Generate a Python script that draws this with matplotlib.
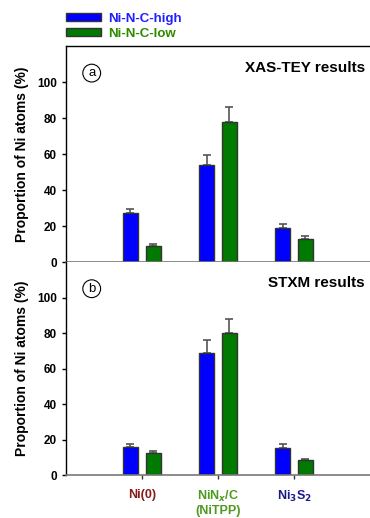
import numpy as np
import matplotlib
matplotlib.use('Agg')
import matplotlib.pyplot as plt

plt.rcParams['font.family'] = ['Liberation Sans', 'DejaVu Sans']
plt.rcParams['font.weight'] = 'bold'

categories = ['Ni(0)', 'NiN$_x$/C\n(NiTPP)', 'Ni$_3$S$_2$']
cat_colors = ['#8B1A1A', '#4E9A1E', '#1A1A8B']
series = ['Ni-N-C-high', 'Ni-N-C-low']

# panel a: XAS-TEY
xas_high = [27.3, 54.0, 19.0]
xas_high_err = [2.2, 5.6, 2.3]
xas_low = [9.0, 77.8, 13.0]
xas_low_err = [1.0, 8.2, 1.6]

# panel b: STXM
stxm_high = [16.0, 69.0, 15.0]
stxm_high_err = [1.7, 7.0, 2.2]
stxm_low = [12.3, 80.0, 8.2]
stxm_low_err = [1.1, 7.9, 1.1]

panel_titles = ['XAS-TEY results', 'STXM results']
panel_tags = ['a', 'b']

fig = plt.figure(figsize=(3.70, 5.18), dpi=100)
ax1 = fig.add_axes([0.178, 0.494, 0.822, 0.417])
ax2 = fig.add_axes([0.178, 0.083, 0.822, 0.411])

x = np.arange(1, len(categories) + 1)
w = 0.19
off = 0.15
blue = '#0000FF'
green = '#007A00'

def draw_panel(ax, high, high_err, low, low_err, title, tag, bottom):
    ax.bar(x - off, high, w, color=blue, edgecolor='#333333', linewidth=1.0, zorder=2, label=series[0])
    ax.bar(x + off, low, w, color=green, edgecolor='#333333', linewidth=1.0, zorder=2, label=series[1])
    ax.errorbar(x - off, high, yerr=[np.zeros(3), high_err], fmt='none', ecolor='#555555',
                elinewidth=1.2, capsize=3, capthick=1.2, zorder=1)
    ax.errorbar(x + off, low, yerr=[np.zeros(3), low_err], fmt='none', ecolor='#555555',
                elinewidth=1.2, capsize=3, capthick=1.2, zorder=1)
    ax.set_xlim(0, 4)
    ax.set_ylim(0, 120)
    ax.set_yticks([0, 20, 40, 60, 80, 100])
    ax.tick_params(axis='y', labelsize=8.5, length=3, width=1, direction='out')
    for lab in ax.get_yticklabels():
        lab.set_fontweight('bold')
    ax.spines['right'].set_visible(False)
    ax.spines['bottom'].set_color('#777777')
    ax.spines['bottom'].set_linewidth(1.2)
    ax.spines['left'].set_linewidth(1.0)
    ax.set_ylabel('Proportion of Ni atoms (%)', fontsize=10, fontweight='bold', labelpad=6)
    ax.text(3.93, 108, title, ha='right', va='center', fontsize=11, fontweight='bold')
    ax.text(0.34, 105, tag, ha='center', va='center', fontsize=9.5, fontweight='normal',
            bbox=dict(boxstyle='circle,pad=0.22', facecolor='white', edgecolor='black', linewidth=0.8))
    if bottom:
        ax.spines['top'].set_visible(False)
        ax.set_xticks(x)
        ax.set_xticklabels(categories, fontsize=9, fontweight='bold', va='top', linespacing=1.1)
        for lab, c in zip(ax.get_xticklabels(), cat_colors):
            lab.set_color(c)
        ax.tick_params(axis='x', length=3, width=1, color='#333333', pad=7)
    else:
        ax.spines['top'].set_linewidth(1.0)
        ax.set_xticks([])

draw_panel(ax1, xas_high, xas_high_err, xas_low, xas_low_err, panel_titles[0], panel_tags[0], False)
draw_panel(ax2, stxm_high, stxm_high_err, stxm_low, stxm_low_err, panel_titles[1], panel_tags[1], True)

leg = ax1.legend(loc='lower left', bbox_to_anchor=(-0.02, 1.0), frameon=False, fontsize=9.5,
                 handlelength=2.6, handleheight=0.6, handletextpad=0.6, labelspacing=0.2,
                 borderaxespad=0.1)
for t, c in zip(leg.get_texts(), ['#2020FF', '#2E8B00']):
    t.set_color(c)
    t.set_fontweight('bold')

fig.savefig('out.png', dpi=100)
